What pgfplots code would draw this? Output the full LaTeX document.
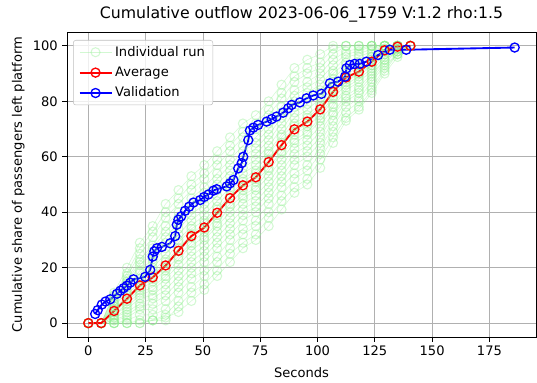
\documentclass[border=0pt]{standalone}
\usepackage{fontspec}
\setmainfont{DejaVu Sans}
\usepackage{pgfplots}
\usepackage{pgfplotstable}
\pgfplotsset{compat=1.18}
\definecolor{lgreen}{HTML}{90EE90}
\definecolor{gridgray}{HTML}{B0B0B0}

\pgfplotstableread{
x avg r1 r2 r3 r4 r5 r6 r7 r8 r9 r10 r11 r12 r13 r14 r15 r16 r17 r18 r19 r20 r21 r22 r23
0 0 0 0 0 0 0 0 0 0 0 0 0 0 0 0 0 0 0 0 0 0 0 0 0
5.62 0 0 0 0 0 0 0 0 0 0 0 0 0 0 0 0 0 0 0 0 0 0 0 0
11.24 4.4 11 10 8 7 6 5 4 3 2 1 0 0 10 9 7 6 5 4 3 2 1 0 0
16.86 8.8 20 17 15 13 11 9 8 6 4 2 0 0 18 16 14 12 10 9 7 5 3 1 0
22.48 13.6 29 25 22 19 16 14 12 10 7 5 1 0 27 23 21 18 15 13 11 9 6 3 0
28.1 16.5 35 31 27 23 20 17 15 12 9 5 1 1 33 28 25 22 19 16 13 10 7 3 1
33.72 20.8 43 38 33 29 25 22 19 16 12 8 3 2 40 35 31 27 23 20 17 14 10 5 1
39.34 26.1 48 43 38 34 30 27 24 21 17 13 8 4 45 40 36 32 29 26 23 19 15 11 6
44.96 31.4 53 48 43 39 35 32 29 26 22 18 13 8 50 45 41 37 34 31 28 24 20 16 11
50.58 34.5 57 52 47 43 39 36 33 30 26 22 17 12 54 49 45 41 37 34 31 28 24 19 14
56.2 39.8 62 57 52 48 44 41 38 35 31 27 22 17 59 54 50 46 42 39 36 33 29 24 19
61.82 45.1 67 62 57 53 49 46 43 40 36 32 27 22 64 59 55 51 48 45 42 38 34 30 25
67.44 49.7 72 67 62 58 54 51 48 45 41 37 32 27 69 64 60 56 52 49 46 43 39 34 29
73.06 52.6 75 70 65 61 57 54 51 48 44 40 35 30 72 67 63 59 55 52 49 46 42 37 32
78.68 58.1 80 75 70 66 62 59 56 53 49 45 40 35 77 72 68 64 61 58 55 51 47 43 38
84.3 64.2 86 81 76 72 68 65 62 59 55 51 46 41 83 78 74 70 67 64 61 57 53 49 44
89.92 69.9 92 87 82 78 74 71 68 65 61 57 52 47 89 84 80 76 72 69 66 63 59 54 49
95.54 72.7 95 90 85 81 77 74 71 68 64 60 55 50 92 87 83 79 75 72 69 66 62 57 52
101.16 77.1 97 92 88 84 81 78 75 73 69 65 61 56 94 90 86 83 79 77 74 71 67 63 59
106.78 83.4 100 97 93 90 87 84 82 79 76 73 69 65 99 95 91 88 85 83 81 78 75 71 67
112.4 88.6 100 100 97 94 91 89 87 85 82 80 76 73 100 98 96 93 90 88 86 84 81 78 74
118.02 90.7 100 100 98 96 93 91 90 88 85 83 80 77 100 99 97 94 92 90 89 87 84 81 78
123.64 94.3 100 100 100 98 96 95 93 92 90 88 85 83 100 100 99 97 96 94 93 91 89 87 84
129.26 98.4 100 100 100 100 100 99 98 97 95 94 92 90 100 100 100 100 99 98 97 96 95 93 91
134.88 99.7 100 100 100 100 100 100 99 99 98 98 97 96 100 100 100 100 100 100 99 99 98 97 97
140.5 100 100 100 100 100 100 100 100 100 100 100 100 100 100 100 100 100 100 100 100 100 100 100 100
}\runs

\pgfplotstableread{
x y
3 3.3
4.1 4.7
5.9 6.7
7.5 7.8
9.6 8.6
12.5 10.6
14 11.7
15.4 12.6
16.8 13.5
18.3 14.6
19.7 15.8
24.8 16.7
27 19.2
28.1 24
28.8 25.9
29.9 27
32.1 27.5
35.7 28.8
37.9 31.4
38.6 35.5
39.3 37.3
40.5 38.5
42.2 40.5
44 42
45.9 43.5
48.8 44.4
50.5 45.5
52.4 46.4
54.6 47.8
56 48.3
60.4 49.3
61.8 50.4
63.3 51.6
65.4 55.8
66.9 57.7
67.6 60
69.8 66
70.5 69.5
72 70.5
74.1 71.5
77.8 72.7
80 73.6
82.1 74.5
85 75.9
87.2 77.5
88.7 78.7
92.3 79.6
95.2 81.1
98.1 82.1
101.7 82.7
105.4 86.5
109 87.1
112 88.9
112.6 91.9
114.1 93.1
116.2 93.5
118.4 93.5
121.3 94.3
126.4 96.7
131.5 98.6
138.7 98.6
186 99.4
}\valid

\begin{document}
\begin{tikzpicture}
\useasboundingbox (-50.25pt,-34.5pt) rectangle (352.5pt,252.75pt);
\begin{axis}[
  at={(0,0)}, anchor=south west, scale only axis,
  width=351.75pt, height=228.75pt,
  xmin=-9.3, xmax=195.3, ymin=-5, ymax=105,
  xtick={0,25,...,175}, ytick={0,20,...,100},
  grid=major, grid style={gridgray, line width=0.6pt},
  axis line style={line width=0.6pt},
  tick align=outside, major tick length=3.4pt,
  tick style={black, line width=0.6pt},
  xtick pos=bottom, ytick pos=left,
  font=\fontsize{9.8}{11.8}\selectfont,
  ticklabel style={font=\fontsize{9.8}{11.8}\selectfont},
  /pgf/number format/assume math mode=true,
  title={Cumulative outflow 2023-06-06\_1759 V:1.2 rho:1.5},
  title style={at={(axis description cs:0.5,1.01967)}, anchor=base, font=\fontsize{11.8}{14}\selectfont},
  xlabel={Seconds},
  xlabel style={at={(axis description cs:0.5,-0.1344)}, anchor=base},
  ylabel={Cumulative share of passengers left platform},
  ylabel style={at={(axis description cs:-0.09595,0.5)}, anchor=base},
  legend style={at={(axis description cs:0.0128,0.9738)}, anchor=north west,
    font=\fontsize{9.8}{11.8}\selectfont, draw=gridgray!80, rounded corners=2pt,
    fill=white, fill opacity=0.8, text opacity=1, row sep=2.5pt,
    inner xsep=4pt, inner ysep=2.5pt},
  legend cell align=left,
  legend image code/.code={\draw[mark repeat=2,mark phase=2] plot coordinates {(0pt,0pt) (12pt,0pt) (24pt,0pt)};},
]
\pgfplotsset{run/.style={lgreen, opacity=0.4, line width=0.4pt, mark=o, mark size=3.4pt, mark options={line width=0.8pt}}}
\addplot[run] table[x=x,y=r1] {\runs};
\addlegendentry{Individual run}
\pgfplotsinvokeforeach{r2,r3,r4,r5,r6,r7,r8,r9,r10,r11,r12,r13,r14,r15,r16,r17,r18,r19,r20,r21,r22,r23}{
  \addplot[run, forget plot] table[x=x,y=#1] {\runs};
}
\addplot[red, line width=1.4pt, mark=o, mark size=3.4pt, mark options={line width=1pt}] table[x=x,y=avg] {\runs};
\addlegendentry{Average}
\addplot[blue, line width=1.4pt, mark=o, mark size=3.4pt, mark options={line width=1pt}] table[x=x,y=y] {\valid};
\addlegendentry{Validation}
\end{axis}
\end{tikzpicture}
\end{document}
